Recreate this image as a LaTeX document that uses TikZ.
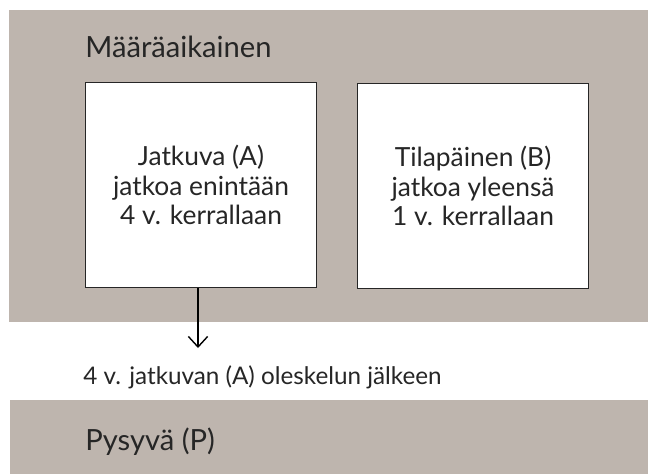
\documentclass[tikz,border=0pt]{standalone}
\usepackage{fontspec}
\setmainfont{Lato}
\usetikzlibrary{arrows.meta, positioning}
\definecolor{bandgrey}{RGB}{190,181,174}
\definecolor{inkgrey}{RGB}{38,38,38}

\begin{document}
\begin{tikzpicture}[x=0.02cm, y=-0.02cm,
    kind/.style={draw=inkgrey, fill=white, line width=0.6pt, inner sep=0pt,
      minimum width=4.62cm, minimum height=4.1cm, anchor=north west,
      align=center, text=inkgrey, font=\fontsize{15}{17}\selectfont},
    head/.style={anchor=base west, inner sep=0pt, text=inkgrey,
      font=\fontsize{16.6}{20}\selectfont},
    note/.style={anchor=base west, inner sep=0pt, text=inkgrey,
      font=\fontsize{13.8}{16}\selectfont}]
      \fill[white] (0, 0) rectangle (648, 474);
      \useasboundingbox (0, 0) rectangle (648, 474);

      % grey bands
      \fill[bandgrey] (9, 10) rectangle (648, 322);
      \fill[bandgrey] (10, 400) rectangle (648, 474);

      \node[head] (maaraaik) at (85, 57) {Määräaikainen};

      \node[kind] (jatkuva) at (85, 82) {Jatkuva (A)\\jatkoa enintään\\4 v. kerrallaan};
      \node[kind] (tilap) at (357, 83) {Tilapäinen (B)\\jatkoa yleensä\\1 v. kerrallaan};

      \coordinate (arrowend) at (198, 348);
      \draw[-{Straight Barb[length=6pt, width=11pt]}, line width=0.8pt] (jatkuva.south -| arrowend) -- (arrowend);

      \node[note] (jalkeen) at (83, 384) {4 v. jatkuvan (A) oleskelun jälkeen};

      \node[head] (pysyva) at (85, 450) {Pysyvä (P)};

    \end{tikzpicture}
\end{document}
